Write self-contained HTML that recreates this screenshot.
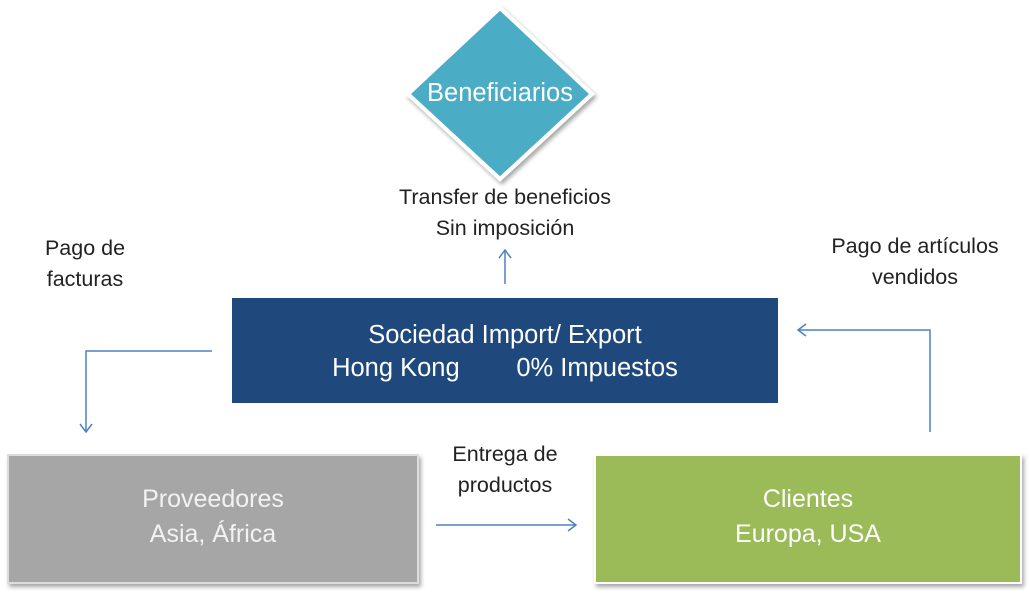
<!DOCTYPE html>
<html><head><meta charset="utf-8"><style>
body{margin:0;width:1030px;height:593px;background:#fff;position:relative;overflow:hidden;font-family:"Liberation Sans",sans-serif}
.t{position:absolute;text-align:center;font-size:21.5px;color:#222;line-height:31px}
.box{position:absolute;display:flex;align-items:center;justify-content:center;text-align:center;color:#fff;font-size:25px;line-height:34px}
</style></head><body>
<svg width="1030" height="593" style="position:absolute;left:0;top:0">
<defs><filter id="s" x="-10%" y="-10%" width="130%" height="130%"><feDropShadow dx="2" dy="3" stdDeviation="2" flood-color="#000" flood-opacity="0.35"/></filter></defs>
<polygon points="500,8 592,94 500,179 408,94" fill="#4bacc6" stroke="#fff" stroke-width="4" filter="url(#s)"/>
<rect x="8" y="455" width="410" height="128" fill="#a6a6a6" stroke="#ddd" stroke-width="2" filter="url(#s)"/>
<rect x="595" y="455" width="426" height="128" fill="#9bbb59" stroke="#fff" stroke-width="2" filter="url(#s)"/>
<rect x="232" y="298" width="546" height="105" fill="#1f497d"/>
<g stroke="#4f81bd" stroke-width="1.5" fill="none">
<polyline points="212,351 86,351 86,432"/><polyline points="80,424 86,432 92,424"/>
<polyline points="930,432 930,330 798,330"/><polyline points="806,324 798,330 806,336"/>
<line x1="436" y1="525" x2="576" y2="525"/><polyline points="568,519 576,525 568,531"/>
<line x1="505" y1="284" x2="505" y2="250"/><polyline points="499,258 505,250 511,258"/>
</g>
</svg>
<div class="box" style="left:400px;top:75px;width:200px;height:36px;font-size:25.5px">Beneficiarios</div>
<div class="box" style="left:232px;top:318px;width:546px;height:68px;font-size:25.5px;line-height:33px">Sociedad Import/ Export<br>Hong Kong&nbsp;&nbsp;&nbsp;&nbsp;&nbsp;&nbsp;&nbsp;&nbsp;0% Impuestos</div>
<div class="box" style="left:8px;top:482px;width:410px;height:70px;color:#f2f2f2;line-height:35px">Proveedores<br>Asia, África</div>
<div class="box" style="left:595px;top:482px;width:426px;height:70px;line-height:35px">Clientes<br>Europa, USA</div>
<div class="t" style="left:355px;top:182px;width:300px">Transfer de beneficios<br>Sin imposición</div>
<div class="t" style="left:10px;top:233px;width:150px">Pago de<br>facturas</div>
<div class="t" style="left:780px;top:231px;width:270px">Pago de artículos<br>vendidos</div>
<div class="t" style="left:415px;top:439px;width:180px">Entrega de<br>productos</div>
</body></html>
